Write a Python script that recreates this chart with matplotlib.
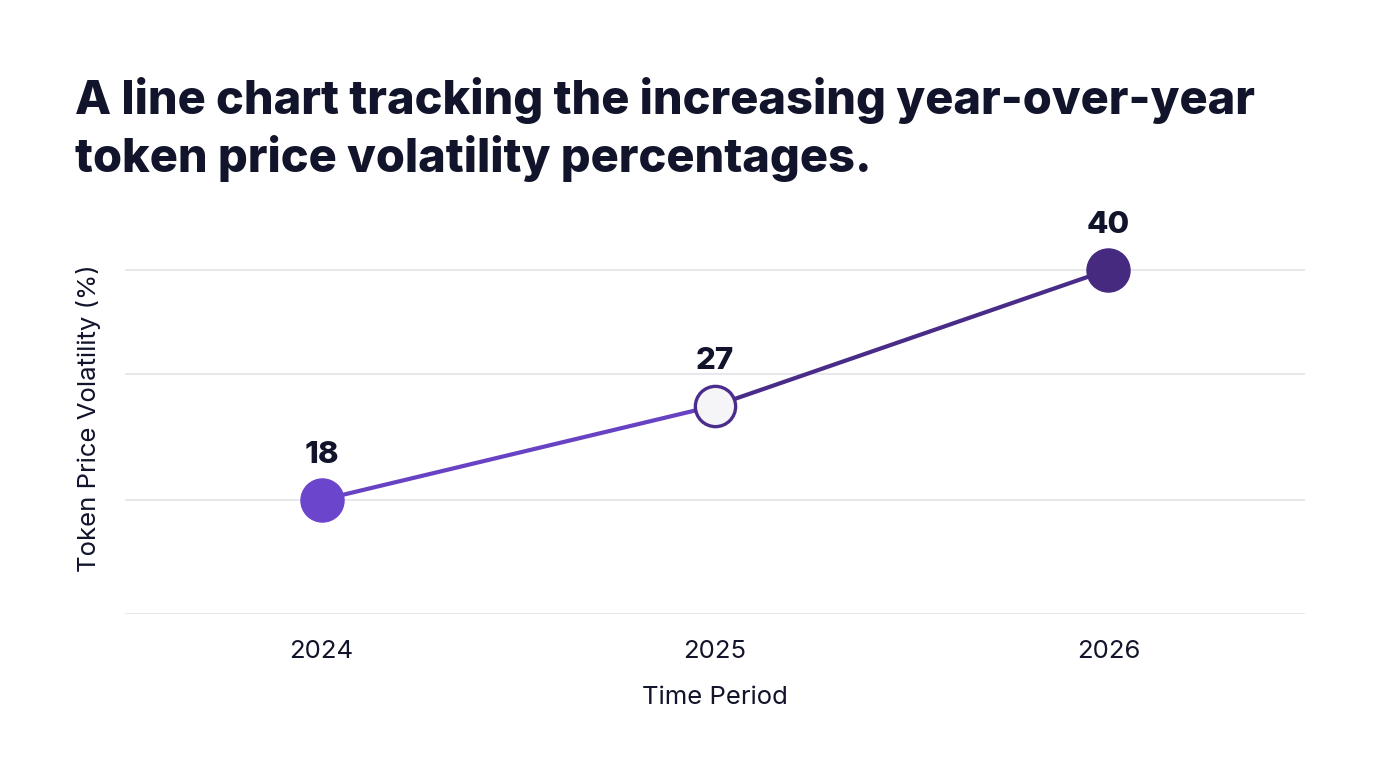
import numpy as np
import matplotlib
matplotlib.use("Agg")
import matplotlib.pyplot as plt

plt.rcParams['font.family'] = ['Inter', 'DejaVu Sans']

# data
years = ["2024", "2025", "2026"]
volatility = [18, 27, 40]

title = "A line chart tracking the increasing year-over-year\ntoken price volatility percentages."
text_col = "#11142a"
grid_col = "#e6e6eb"
seg_cols = ["#6743c4", "#492c88"]

fig = plt.figure(figsize=(13.76, 7.68), dpi=100)
ax = fig.add_axes([0.0908, 0.2005, 0.8576, 0.5])

x = np.arange(len(years))

# line, one colour per segment (light -> dark purple)
for i in range(len(x) - 1):
    ax.plot(x[i:i+2], volatility[i:i+2], color=seg_cols[i], lw=3, solid_capstyle='round', zorder=2)

# markers
ax.plot(x[0], volatility[0], 'o', ms=31, color="#6b45cb", zorder=3, clip_on=False)
ax.plot(x[1], volatility[1], 'o', ms=29, mfc="#f5f5f7", mec="#4b2d8c", mew=2.4, zorder=3, clip_on=False)
ax.plot(x[2], volatility[2], 'o', ms=31, color="#462a80", zorder=3, clip_on=False)

for xi, v in zip(x, volatility):
    ax.annotate(str(v), (xi, v), xytext=(0, 32), textcoords='offset points',
                ha='center', va='center', fontsize=22.5, fontweight='heavy', color=text_col)

ax.set_xlim(-0.5, 2.5)
ax.set_ylim(7.09, 43.8)
ax.set_yticks([7.09, 18, 30, 40])
ax.set_yticklabels([])
ax.grid(axis='y', color=grid_col, lw=1.3)
ax.set_axisbelow(True)
for s in ax.spines.values():
    s.set_visible(False)
ax.tick_params(axis='both', length=0)
ax.tick_params(axis='x', pad=19, labelsize=18.5, labelcolor=text_col)
ax.set_xticks(x)
ax.set_xticklabels(years)

ax.set_xlabel("Time Period", fontsize=18.5, color=text_col, labelpad=16)
ax.set_ylabel("Token Price Volatility (%)", fontsize=18.5, color=text_col)
ax.yaxis.set_label_coords(-0.020, 0.51)

fig.text(0.0545, 1 - 77/768, title, ha='left', va='top', fontsize=33.8,
         fontweight='heavy', color=text_col, linespacing=1.3)

fig.savefig("out.png", dpi=100)
